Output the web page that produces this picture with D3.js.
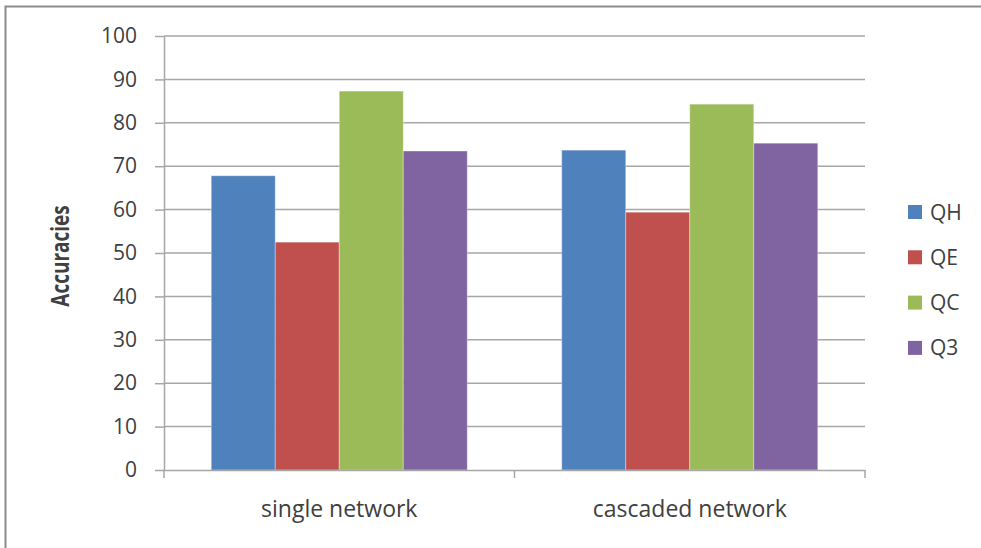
<!DOCTYPE html>
<html>
<head>
<meta charset="utf-8">
<script src="https://cdn.jsdelivr.net/npm/d3@7"></script>
<style>
  html, body { margin: 0; padding: 0; background: #fff; }
  svg { display: block; }
  text { font-family: "Open Sans", sans-serif; fill: #404040; }
</style>
</head>
<body>
<svg id="chart" width="981" height="548"></svg>
<script>
// Accuracy of each prediction measure, per network type
const categories = ["single network", "cascaded network"];
const seriesNames = ["QH", "QE", "QC", "Q3"];
const seriesColors = ["#4F81BD", "#C0504D", "#9BBB59", "#8064A2"];
const QH = [67.8, 73.7];
const QE = [52.5, 59.4];
const QC = [87.3, 84.3];
const Q3 = [73.5, 75.3];
const yTicks = [0, 10, 20, 30, 40, 50, 60, 70, 80, 90, 100];
const yTitle = "Accuracies";

const seriesValues = [QH, QE, QC, Q3];

const W = 981, H = 548;
const margin = { top: 36, right: 116, bottom: 78, left: 164 };
const svg = d3.select("#chart");

// outer frame
svg.append("rect")
  .attr("x", 5.5).attr("y", 6.5)
  .attr("width", W + 10).attr("height", H + 10)
  .attr("fill", "#fff")
  .attr("stroke", "#8c8c8c").attr("stroke-width", 2);

const x = d3.scaleBand()
  .domain(categories)
  .range([margin.left, W - margin.right])
  .paddingInner(0).paddingOuter(0);

const xs = d3.scaleBand()
  .domain(seriesNames)
  .range([0, x.bandwidth()])
  .paddingInner(0).paddingOuter(0.738);

const y = d3.scaleLinear()
  .domain([0, 100])
  .range([H - margin.bottom, margin.top]);

const color = d3.scaleOrdinal().domain(seriesNames).range(seriesColors);

// horizontal gridlines
svg.append("g")
  .selectAll("line")
  .data(yTicks.filter(t => t > 0))
  .join("line")
  .attr("x1", margin.left).attr("x2", W - margin.right)
  .attr("y1", d => y(d)).attr("y2", d => y(d))
  .attr("stroke", "#a6a6a6").attr("stroke-width", 1.5);

// bars
const bars = [];
categories.forEach((c, ci) => {
  seriesNames.forEach((s, si) => {
    bars.push({ cat: c, series: s, value: seriesValues[si][ci] });
  });
});

svg.append("g")
  .selectAll("rect")
  .data(bars)
  .join("rect")
  .attr("x", d => x(d.cat) + xs(d.series))
  .attr("y", d => y(d.value))
  .attr("width", xs.bandwidth())
  .attr("height", d => y(0) - y(d.value))
  .attr("fill", d => color(d.series))
  .attr("stroke", "rgba(255,255,255,0.35)")
  .attr("stroke-width", 1);

// y axis
const yAxis = d3.axisLeft(y)
  .tickValues(yTicks)
  .tickSizeInner(9).tickSizeOuter(0)
  .tickPadding(18);

const gy = svg.append("g")
  .attr("transform", `translate(${margin.left},0)`)
  .call(yAxis);
gy.select(".domain").attr("stroke", "#a6a6a6").attr("stroke-width", 1.5);
gy.selectAll(".tick line").attr("stroke", "#a6a6a6").attr("stroke-width", 1.5);
gy.selectAll(".tick text")
  .attr("font-size", 21)
  .attr("font-family", "Open Sans, sans-serif")
  .attr("fill", "#404040");

// x axis line and category separators
const xAxis = d3.axisBottom(x).tickSize(0).tickFormat("");
const gx = svg.append("g")
  .attr("transform", `translate(0,${y(0)})`)
  .call(xAxis);
gx.select(".domain").attr("stroke", "#a6a6a6").attr("stroke-width", 1.5);

const boundaries = [x.range()[0], ...categories.map(c => x(c) + x.bandwidth())];
svg.append("g")
  .selectAll("line")
  .data(boundaries)
  .join("line")
  .attr("x1", d => d).attr("x2", d => d)
  .attr("y1", y(0)).attr("y2", y(0) + 8)
  .attr("stroke", "#a6a6a6").attr("stroke-width", 1.5);

// category labels
svg.append("g")
  .selectAll("text")
  .data(categories)
  .join("text")
  .attr("x", d => x(d) + x.bandwidth() / 2)
  .attr("y", 517)
  .attr("text-anchor", "middle")
  .attr("font-size", 23)
  .text(d => d);

// y axis title
svg.append("text")
  .attr("transform", "translate(69,256) scale(1.3,1) rotate(-90)")
  .attr("text-anchor", "middle")
  .attr("font-size", 19)
  .attr("font-weight", "bold")
  .attr("fill", "#1a1a1a")
  .text(yTitle);

// legend
const legend = svg.append("g")
  .selectAll("g")
  .data(seriesNames)
  .join("g")
  .attr("transform", (d, i) => `translate(908,${212 + i * 45.3})`);

legend.append("rect")
  .attr("x", 0).attr("y", -7)
  .attr("width", 14).attr("height", 14)
  .attr("fill", d => color(d));

legend.append("text")
  .attr("x", 22).attr("y", 0)
  .attr("dy", "0.36em")
  .attr("font-size", 21)
  .text(d => d);
</script>
</body>
</html>
